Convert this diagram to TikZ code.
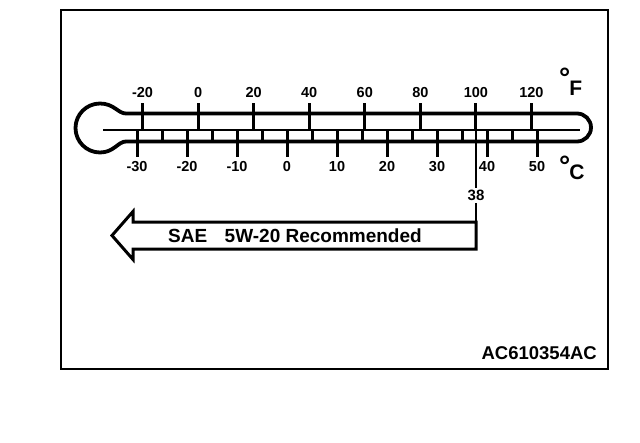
\documentclass[tikz,border=0pt]{standalone}
\usepackage{fontspec}
\setmainfont{Liberation Sans}
\begin{document}
\begin{tikzpicture}[x=1pt,y=-1pt,line join=miter]
\tikzset{
  frame/.style={line width=2.4pt},
  tube/.style={line width=3.8pt},
  midline/.style={line width=2.6pt},
  tickline/.style={line width=3pt},
  thinline/.style={line width=1.6pt},
  lbl/.style={font=\fontsize{14.5}{14.5}\selectfont\bfseries,inner sep=0pt},
  unit/.style={font=\fontsize{21}{21}\selectfont\bfseries,inner sep=0pt,anchor=base west},
  big/.style={font=\fontsize{19}{19}\selectfont\bfseries,inner sep=0pt},
}
\useasboundingbox (0,0) rectangle (640,442);
\draw[frame] (61,10) rectangle (608,369);
% thermometer outline
\draw[tube] (126,113.5) -- (577,113.5) arc (-90:90:14) -- (126,141.5)
  .. controls (118,141.5) and (114,152.5) .. (100,152.5)
  arc (90:270:24.5)
  .. controls (114,103.5) and (118,113.5) .. (126,113.5) -- cycle;
\draw[midline] (103,130) -- (580,130);
% Fahrenheit
\foreach \f in {-20,0,...,120}{
  \pgfmathsetmacro\xx{287+25*(\f-32)/9}
  \draw[tickline] (\xx,103) -- (\xx,130);
  \node[lbl] (F\f) at (\xx,93) {\f};
}
% Celsius
\foreach \c in {-30,-20,...,50}{
  \pgfmathsetmacro\xx{287+5*\c}
  \draw[tickline] (\xx,130) -- (\xx,157);
  \node[lbl] (C\c) at (\xx,167) {\c};
}
\foreach \c in {-25,-15,...,45}{
  \pgfmathsetmacro\xx{287+5*\c}
  \draw[tickline] (\xx,130) -- (\xx,141.5);
}
\node[unit] (degF) at (559,95) {\raisebox{8pt}{\fontsize{28}{28}\selectfont °}\kern-1pt F};
\node[unit] (degC) at (559,179) {\raisebox{4pt}{\fontsize{28}{28}\selectfont °}\kern-1pt C};
% 38 marker
\node[font=\fontsize{15}{15}\selectfont\bfseries,inner sep=0pt] (t38) at (476,195.5) {38};
\draw[thinline] (476,130) -- ([yshift=2pt]t38.north);
\draw[thinline] ([yshift=-2pt]t38.south) -- (476,222);
% arrow
\draw[tickline] (476,222) -- (133,222) -- (133,211.5) -- (112,235.5) -- (133,259.5) -- (133,249) -- (476,249) -- cycle;
\node[big,anchor=base west] (sae) at (168,242) {SAE};
\node[big,anchor=base east] (rec) at (422,242) {5W-20 Recommended};
\node[font=\fontsize{18.5}{18.5}\selectfont\bfseries,inner sep=0pt,anchor=base east] (code) at (597,359) {AC610354AC};
\end{tikzpicture}
\end{document}
